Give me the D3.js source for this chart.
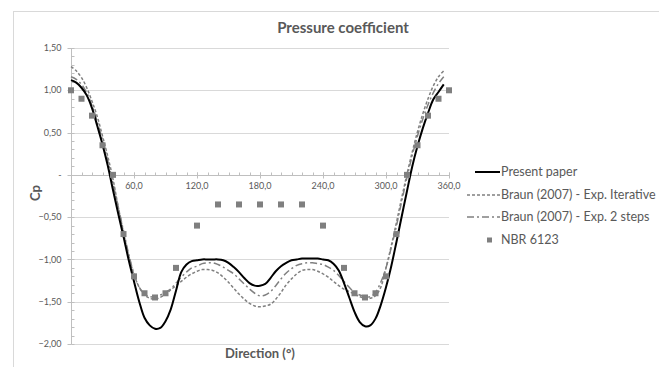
<!DOCTYPE html>
<meta charset="utf-8">
<style>
  body { margin: 0; background: #fff; }
  text { font-family: Lato, "Open Sans", sans-serif; fill: #595959; }
</style>
<body>
<script src="https://d3js.org/d3.v7.min.js"></script>
<script>

// Wind direction (degrees) for the three computed curves
var directions = [0, 5, 10, 15, 20, 25, 30, 35, 40, 45, 50, 55,
                  60, 65, 70, 75, 80, 85, 90, 95, 100, 105, 110, 115,
                  120, 125, 130, 135, 140, 145, 150, 155, 160, 165, 170, 175,
                  180, 185, 190, 195, 200, 205, 210, 215, 220, 225, 230, 235,
                  240, 245, 250, 255, 260, 265, 270, 275, 280, 285, 290, 295,
                  300, 305, 310, 315, 320, 325, 330, 335, 340, 345, 350, 355];

var presentPaper = [1.12, 1.09, 1.03, 0.94, 0.79, 0.58, 0.36, 0.11, -0.18, -0.46, -0.73, -1.01,
                    -1.26, -1.50, -1.69, -1.78, -1.82, -1.81, -1.73, -1.59, -1.37, -1.15, -1.06, -1.02,
                    -1.01, -1.00, -1.00, -1.00, -1.00, -1.01, -1.04, -1.09, -1.15, -1.22, -1.28, -1.31,
                    -1.31, -1.29, -1.22, -1.14, -1.08, -1.04, -1.01, -1.00, -0.99, -0.99, -0.99, -0.99,
                    -1.00, -1.01, -1.05, -1.13, -1.28, -1.45, -1.62, -1.74, -1.79, -1.78, -1.70, -1.54,
                    -1.33, -1.08, -0.79, -0.49, -0.19, 0.10, 0.34, 0.55, 0.73, 0.89, 0.98, 1.07];

var braunIterative = [1.28, 1.23, 1.15, 1.03, 0.87, 0.69, 0.46, 0.22, -0.05, -0.38, -0.68, -0.96,
                      -1.18, -1.33, -1.42, -1.46, -1.47, -1.45, -1.41, -1.36, -1.31, -1.26, -1.21, -1.17,
                      -1.14, -1.12, -1.12, -1.13, -1.16, -1.21, -1.27, -1.34, -1.41, -1.47, -1.52, -1.55,
                      -1.56, -1.55, -1.53, -1.47, -1.39, -1.30, -1.23, -1.17, -1.13, -1.12, -1.12, -1.14,
                      -1.17, -1.21, -1.26, -1.31, -1.35, -1.38, -1.41, -1.44, -1.46, -1.46, -1.43, -1.33,
                      -1.10, -0.84, -0.56, -0.27, 0.01, 0.27, 0.51, 0.72, 0.90, 1.05, 1.16, 1.23];

var braunTwoSteps = [1.16, 1.13, 1.07, 0.97, 0.82, 0.63, 0.41, 0.17, -0.10, -0.38, -0.66, -0.94,
                     -1.17, -1.33, -1.41, -1.44, -1.44, -1.42, -1.39, -1.35, -1.28, -1.21, -1.15, -1.10,
                     -1.08, -1.05, -1.04, -1.04, -1.06, -1.09, -1.13, -1.17, -1.23, -1.29, -1.35, -1.40,
                     -1.43, -1.42, -1.38, -1.31, -1.23, -1.16, -1.11, -1.07, -1.05, -1.04, -1.04, -1.05,
                     -1.06, -1.09, -1.13, -1.19, -1.26, -1.33, -1.39, -1.42, -1.44, -1.44, -1.39, -1.27,
                     -1.10, -0.86, -0.60, -0.31, -0.03, 0.23, 0.46, 0.66, 0.83, 0.97, 1.08, 1.16];

// NBR 6123 code values
var nbrDirections = [0, 10, 20, 30, 40, 50, 60, 70, 80, 90, 100, 120, 140, 160, 180,
                     200, 220, 240, 260, 270, 280, 290, 300, 310, 320, 330, 340, 350, 360];
var nbrCp = [1.00, 0.90, 0.70, 0.35, 0.00, -0.70, -1.20, -1.40, -1.45, -1.40, -1.10, -0.60, -0.35, -0.35, -0.35,
             -0.35, -0.35, -0.60, -1.10, -1.40, -1.45, -1.40, -1.20, -0.70, 0.00, 0.35, 0.70, 0.90, 1.00];

var xTicks = [60, 120, 180, 240, 300, 360];
var yTicks = [-2, -1.5, -1, -0.5, 0, 0.5, 1, 1.5];

var width = 659, height = 367;

var svg = d3.select("body").append("svg")
    .attr("width", width)
    .attr("height", height);

// chart area border (Excel style)
svg.append("rect")
    .attr("x", 13.5).attr("y", 11.5)
    .attr("width", 700).attr("height", 400)
    .attr("fill", "none")
    .attr("stroke", "#d9d9d9");

var x = d3.scaleLinear().domain([0, 360]).range([71, 449]);
var y = d3.scaleLinear().domain([-2, 1.5]).range([344, 48]);

// horizontal gridlines
svg.selectAll(".grid")
    .data(yTicks.filter(function(d) { return d !== 0; }))
  .enter().append("line")
    .attr("x1", x(0)).attr("x2", x(360))
    .attr("y1", function(d) { return Math.round(y(d)) + 0.5; })
    .attr("y2", function(d) { return Math.round(y(d)) + 0.5; })
    .attr("stroke", "#d9d9d9");

// y axis: major ticks out, minor ticks in
var yAxis = svg.append("g").attr("transform", "translate(" + (x(0) + 0.5) + ",0)");
yAxis.append("line")
    .attr("y1", y(1.5)).attr("y2", y(-2))
    .attr("stroke", "#bfbfbf");
yAxis.selectAll(".minor")
    .data(d3.range(-20, 16).map(function(d) { return d / 10; }))
  .enter().append("line")
    .attr("x1", 0).attr("x2", 3)
    .attr("y1", function(d) { return Math.round(y(d)) + 0.5; })
    .attr("y2", function(d) { return Math.round(y(d)) + 0.5; })
    .attr("stroke", "#bfbfbf");
yAxis.selectAll(".major")
    .data(yTicks)
  .enter().append("line")
    .attr("x1", -4).attr("x2", 0)
    .attr("y1", function(d) { return Math.round(y(d)) + 0.5; })
    .attr("y2", function(d) { return Math.round(y(d)) + 0.5; })
    .attr("stroke", "#bfbfbf");
yAxis.selectAll(".lab")
    .data(yTicks)
  .enter().append("text")
    .attr("x", -10)
    .attr("y", function(d) { return y(d); })
    .attr("dy", "0.35em")
    .attr("text-anchor", "end")
    .style("font-size", "9px")
    .text(function(d) { return d === 0 ? "-" : d3.format(".2f")(d).replace(".", ","); });

// x axis drawn at Cp = 0
var xAxis = svg.append("g").attr("transform", "translate(0," + (Math.round(y(0)) + 0.5) + ")");
xAxis.append("line")
    .attr("x1", x(0)).attr("x2", x(360))
    .attr("stroke", "#bfbfbf");
xAxis.selectAll(".minor")
    .data(d3.range(0, 361, 10))
  .enter().append("line")
    .attr("x1", function(d) { return Math.round(x(d)) + 0.5; })
    .attr("x2", function(d) { return Math.round(x(d)) + 0.5; })
    .attr("y1", -3).attr("y2", 0)
    .attr("stroke", "#bfbfbf");
xAxis.selectAll(".major")
    .data(xTicks)
  .enter().append("line")
    .attr("x1", function(d) { return Math.round(x(d)) + 0.5; })
    .attr("x2", function(d) { return Math.round(x(d)) + 0.5; })
    .attr("y1", -3).attr("y2", 3)
    .attr("stroke", "#bfbfbf");
xAxis.selectAll(".lab")
    .data(xTicks)
  .enter().append("text")
    .attr("x", function(d) { return x(d); })
    .attr("y", 13)
    .attr("text-anchor", "middle")
    .style("font-size", "9px")
    .text(function(d) { return d3.format(".1f")(d).replace(".", ","); });

// series
var series = [
  {name: "Present paper", values: presentPaper, color: "#000", width: 2, dash: null},
  {name: "Braun (2007) - Exp. Iterative", values: braunIterative, color: "#808080", width: 1.5, dash: "3,2"},
  {name: "Braun (2007) - Exp. 2 steps", values: braunTwoSteps, color: "#808080", width: 1.5, dash: "7,3,2,3"}
];

var line = d3.line()
    .x(function(d, i) { return x(directions[i]); })
    .y(function(d) { return y(d); })
    .curve(d3.curveCatmullRom);

// draw dashed series under the solid one
series.slice().reverse().forEach(function(s) {
  svg.append("path")
      .datum(s.values)
      .attr("d", line)
      .attr("fill", "none")
      .attr("stroke", s.color)
      .attr("stroke-width", s.width)
      .attr("stroke-dasharray", s.dash);
});

svg.selectAll(".nbr")
    .data(nbrCp)
  .enter().append("rect")
    .attr("x", function(d, i) { return x(nbrDirections[i]) - 3; })
    .attr("y", function(d) { return y(d) - 3; })
    .attr("width", 6).attr("height", 6)
    .attr("fill", "#7f7f7f");

// titles
svg.append("text")
    .attr("x", 343).attr("y", 33)
    .attr("text-anchor", "middle")
    .style("font-weight", "bold")
    .style("font-size", "15px")
    .text("Pressure coefficient");

svg.append("text")
    .attr("x", 260).attr("y", 358)
    .attr("text-anchor", "middle")
    .style("font-weight", "bold")
    .style("font-size", "13px")
    .text("Direction (°)");

svg.append("text")
    .attr("transform", "translate(40,193) rotate(-90)")
    .attr("text-anchor", "middle")
    .style("font-weight", "bold")
    .style("font-size", "13px")
    .text("Cp");

// legend
var legend = svg.append("g");
var legY = [172, 195, 217, 240];
series.forEach(function(s, i) {
  legend.append("line")
      .attr("x1", i === 0 ? 475 : 467).attr("x2", 500)
      .attr("y1", legY[i]).attr("y2", legY[i])
      .attr("stroke", s.color)
      .attr("stroke-width", s.width)
      .attr("stroke-dasharray", s.dash);
  legend.append("text")
      .attr("x", 501).attr("y", legY[i])
      .attr("dy", "0.35em")
      .style("font-size", "12.5px")
      .text(s.name);
});
legend.append("rect")
    .attr("x", 487).attr("y", legY[3] - 2.5)
    .attr("width", 5).attr("height", 5)
    .attr("fill", "#7f7f7f");
legend.append("text")
    .attr("x", 501).attr("y", legY[3])
    .attr("dy", "0.35em")
    .style("font-size", "12.5px")
    .text("NBR 6123");

</script>
</body>
